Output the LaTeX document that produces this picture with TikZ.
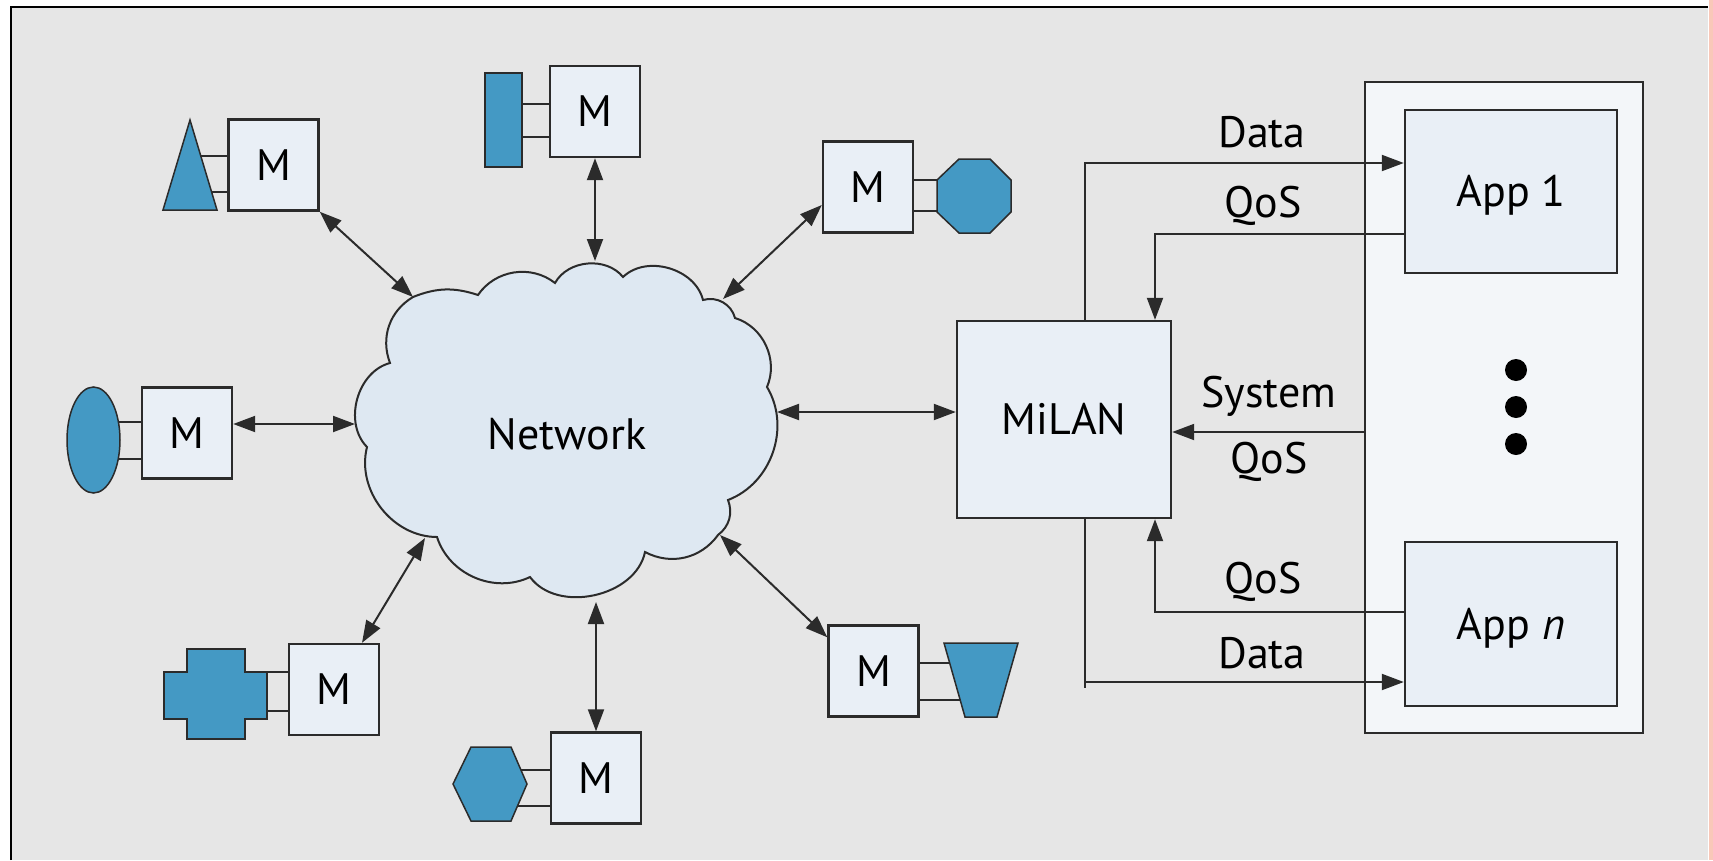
\documentclass[tikz,border=0pt]{standalone}
\usepackage{fontspec}
\setmainfont{PT Sans}
\usetikzlibrary{arrows.meta}
\definecolor{bggray}{HTML}{E6E6E6}
\definecolor{boxfill}{HTML}{E9EFF6}
\definecolor{cloudfill}{HTML}{DEE8F2}
\definecolor{panelfill}{HTML}{F3F6F9}
\definecolor{sensorblue}{HTML}{4499C4}
\definecolor{ink}{HTML}{2B2B2B}
\definecolor{rimcolor}{HTML}{F9C8B9}
\begin{document}
\begin{tikzpicture}[x=1pt,y=-1pt,
  txt/.style={font=\fontsize{44}{50}\selectfont},
  mbox/.style={txt,draw=ink,line width=2.4pt,fill=boxfill,minimum width=90pt,minimum height=91pt,inner sep=0pt},
  bigbox/.style={txt,draw=ink,line width=2.4pt,fill=boxfill,inner sep=0pt,text height=30pt,text depth=0pt},
  sensorshape/.style={draw=ink,line width=1.5pt,fill=sensorblue},
  link/.style={draw=ink,line width=2pt},
  conn/.style={draw=ink,line width=2pt,{Triangle[length=22pt,width=16pt]}-{Triangle[length=22pt,width=16pt]}},
  flow/.style={draw=ink,line width=2pt,-{Triangle[length=22pt,width=16pt]}},
  lbl/.style={txt,anchor=base,inner sep=0pt}]
\useasboundingbox (0,0) rectangle (1713,860);

% page frame
\fill[white] (0,0) rectangle (1713,860);
\fill[bggray] (11,7) rectangle (1708,860);
\fill[rimcolor] (1709,0) rectangle (1713,860);
\draw[black,line width=2pt] (11,860) -- (11,7) -- (1708,7);

% network cloud
\draw[draw=ink,line width=2pt,fill=cloudfill]
  (413,297) to[bend left=20] (478,295) to[bend left=47] (555,283)
  to[bend left=56] (623,277) to[bend left=60] (703,300)
  to[bend left=46] (735,318) to[bend left=48] (767,387)
  to[bend left=50] (728,500) to[bend left=37] (718,535)
  to[bend left=41] (645,552) to[bend left=66] (530,577)
  to[bend left=49] (437,537) to[bend left=52] (367,447)
  to[bend left=60] (390,363) to[bend left=40] (413,297) -- cycle;
\node[txt,inner sep=0pt,anchor=base] (net) at (567,449) {Network};

% contact points on the cloud
\coordinate (c1) at (413,297);
\coordinate (c2) at (595,261);
\coordinate (c3) at (723,299);
\coordinate (c4) at (355,424);
\coordinate (c5) at (425,538);
\coordinate (c6) at (596,602);
\coordinate (c7) at (720,535);
\coordinate (c8) at (777,412);

% links between sensors and their M boxes
\draw[link] (200,156) -- (228,156) (210,192) -- (228,192);
\draw[link] (522,104) -- (551,104) (522,137) -- (551,137);
\draw[link] (913,180) -- (940,180) (913,211) -- (940,211);
\draw[link] (110,422) -- (143,422) (110,459) -- (143,459);
\draw[link] (260,672) -- (289,672) (260,711) -- (289,711);
\draw[link] (515,770) -- (551,770) (515,806) -- (551,806);
\draw[link] (919,663) -- (952,663) (919,700) -- (962,700);

% sensors
\draw[sensorshape] (190,120) -- (217,210) -- (163,210) -- cycle;
\draw[sensorshape] (485,73) rectangle (522,167);
\draw[sensorshape] (959,159) -- (990,159) -- (1011,180) -- (1011,212) -- (990,233) -- (959,233) -- (937,212) -- (937,180) -- cycle;
\draw[sensorshape] (93.5,440) ellipse [x radius=26.5, y radius=53];
\draw[sensorshape] (187,649) -- (245,649) -- (245,672) -- (267,672) -- (267,719) -- (245,719) -- (245,739) -- (187,739) -- (187,719) -- (164,719) -- (164,672) -- (187,672) -- cycle;
\draw[sensorshape] (453,784) -- (471,747) -- (511,747) -- (527,784) -- (511,821) -- (471,821) -- cycle;
\draw[sensorshape] (944,643) -- (1018,643) -- (997,717) -- (965,717) -- cycle;

% M boxes
\node[mbox] (m1) at (273.5,165) {M};
\node[mbox] (m2) at (595,111.5) {M};
\node[mbox] (m3) at (868,187) {M};
\node[mbox] (m4) at (187,433) {M};
\node[mbox] (m5) at (334,689.5) {M};
\node[mbox] (m6) at (596,778) {M};
\node[mbox] (m7) at (873.5,671) {M};

% application panel
\node[draw=ink,line width=2.2pt,fill=panelfill,minimum width=278pt,minimum height=651pt,inner sep=0pt] (panel) at (1504,407.5) {};
\node[bigbox,minimum width=212pt,minimum height=163pt] (app1) at (1511,191.5) {App 1};
\node[bigbox,minimum width=212pt,minimum height=164pt] (appn) at (1511,624) {App \textit{n}};
\fill[black] (1516,370) circle (11) (1516,407) circle (11) (1516,444) circle (11);

% middleware
\node[bigbox,minimum width=214pt,minimum height=197pt] (milan) at (1064,419.5) {MiLAN};

% sensor <-> network
\draw[conn] (m1.south east) -- (c1);
\draw[conn] (m2.south) -- (c2);
\draw[conn] ([yshift=-18pt]m3.west) -- (c3);
\draw[conn] ([yshift=9pt]m4.east) -- (c4);
\draw[conn] ([xshift=28pt]m5.north) -- (c5);
\draw[conn] (m6.north) -- (c6);
\draw[conn] ([yshift=-13pt]m7.north west) -- (c7);
\draw[conn] (c8) -- (milan.west |- c8);

% data and QoS flows
\coordinate (dtop) at (1085,163);
\coordinate (qtop) at (1155,234);
\coordinate (sq) at (1171,432);
\coordinate (qlow) at (1155,612);
\coordinate (dlow) at (1085,682);
\draw[flow] (milan.north -| dtop) -- (dtop) -- (app1.west |- dtop);
\draw[flow] (app1.west |- qtop) -- (qtop) -- (milan.north -| qtop);
\draw[flow] (panel.west |- sq) -- (milan.east |- sq);
\draw[flow] (appn.west |- qlow) -- (qlow) -- (milan.south -| qlow);
\draw[link] (milan.south -| dlow) -- ([yshift=-6pt]dlow);
\draw[flow] (dlow) -- (appn.west |- dlow);

% flow labels
\node[lbl] (l1) at (1262,147) {Data};
\node[lbl] (l2) at (1263,217) {QoS};
\node[lbl] (l3) at (1269,407) {System};
\node[lbl] (l4) at (1269,473) {QoS};
\node[lbl] (l5) at (1263,593) {QoS};
\node[lbl] (l6) at (1262,668) {Data};
\end{tikzpicture}
\end{document}
